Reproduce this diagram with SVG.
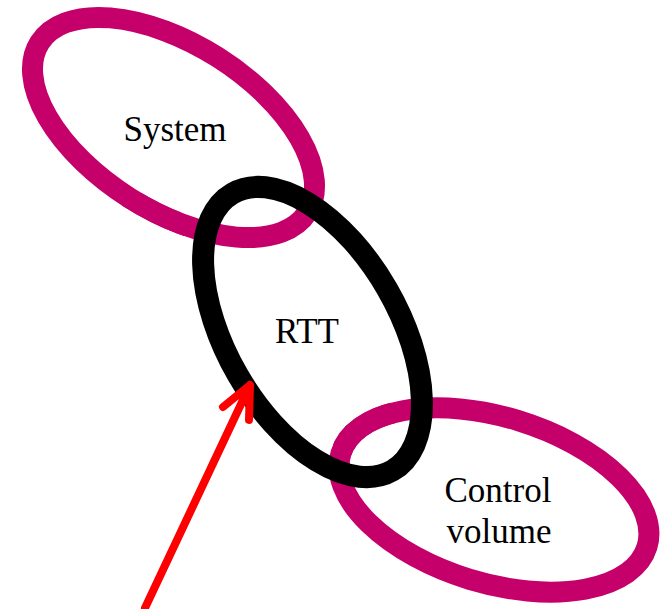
<svg xmlns="http://www.w3.org/2000/svg" width="663" height="609" viewBox="0 0 663 609">
  <style>
    .ring { fill: none; stroke-width: 21; }
    .magenta { stroke: #c6006a; }
    .black { stroke: #000000; stroke-width: 22; }
    .label { font-family: "Liberation Serif", "Times New Roman", serif; font-size: 35px; fill: #000000; text-anchor: middle; }
    .pointer { fill: none; stroke: #ff0000; stroke-width: 8; stroke-linecap: round; stroke-linejoin: round; }
  </style>
  <defs>
    <!-- small windows where the magenta links pass over the black one -->
    <clipPath id="sys-over">
      <circle cx="207" cy="226" r="36"/>
    </clipPath>
    <clipPath id="cv-over">
      <circle cx="342" cy="463" r="36"/>
    </clipPath>
  </defs>

  <rect width="663" height="609" fill="#ffffff"/>

  <g id="system">
    <ellipse class="ring magenta" cx="173.5" cy="127.5" rx="158.5" ry="83" transform="rotate(32.4 173.5 127.5)"/>
    <text class="label" x="175" y="141">System</text>
  </g>

  <g id="control-volume">
    <ellipse class="ring magenta" cx="494" cy="500" rx="160" ry="83" transform="rotate(17 494 500)"/>
    <text class="label" x="498" y="502">Control</text>
    <text class="label" x="499" y="543">volume</text>
  </g>

  <g id="rtt">
    <ellipse class="ring black" cx="312.5" cy="332" rx="160" ry="86.2" transform="rotate(60 312.5 332)"/>
    <text class="label" x="307" y="343">RTT</text>
  </g>

  <!-- interlocking: re-draw magenta segments on top of the black link -->
  <g id="links-over">
    <ellipse class="ring magenta" clip-path="url(#sys-over)" cx="173.5" cy="127.5" rx="158.5" ry="83" transform="rotate(32.4 173.5 127.5)"/>
    <ellipse class="ring magenta" clip-path="url(#cv-over)" cx="494" cy="500" rx="160" ry="83" transform="rotate(17 494 500)"/>
  </g>

  <g id="connectors">
    <path class="pointer" d="M145,608 L250,385 M223,407 L250,385 L249,420"/>
  </g>
</svg>
